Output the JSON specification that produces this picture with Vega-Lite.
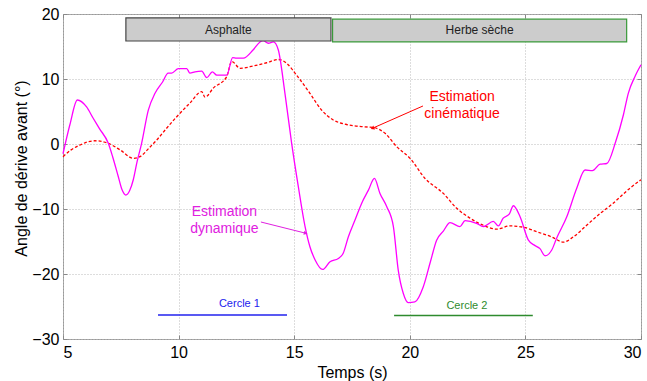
{
  "$schema": "https://vega.github.io/schema/vega-lite/v6.json",
  "width": 578,
  "height": 325,
  "autosize": {"type": "none"},
  "padding": {"left": 63, "top": 14, "right": 6, "bottom": 42},
  "background": "white",
  "config": {
    "view": {"stroke": "#999999", "strokeWidth": 1},
    "font": "Liberation Sans",
    "axis": {
      "domain": false,
      "ticks": true,
      "tickSize": -4,
      "tickColor": "#888888",
      "grid": true,
      "gridColor": "#bbbbbb",
      "gridDash": [1, 2],
      "gridWidth": 1,
      "labelFont": "Liberation Sans",
      "labelFontSize": 16,
      "labelColor": "#000000",
      "titleFont": "Liberation Sans",
      "titleFontSize": 16,
      "titleFontWeight": "normal",
      "titleColor": "#000000"
    }
  },
  "resolve": {"axis": {"x": "independent", "y": "independent"}},
  "datasets": {
    "dyn": [
      {"t": 5.0, "v": -1.5}, {"t": 5.3, "v": 3.0}, {"t": 5.62, "v": 6.77}, {"t": 6.02, "v": 5.7},
      {"t": 6.3, "v": 4.0}, {"t": 6.57, "v": 2.4}, {"t": 6.96, "v": 0.1}, {"t": 7.15, "v": -2.0},
      {"t": 7.39, "v": -5.0}, {"t": 7.55, "v": -7.0}, {"t": 7.72, "v": -7.85}, {"t": 7.88, "v": -7.2},
      {"t": 8.04, "v": -5.5}, {"t": 8.2, "v": -2.8}, {"t": 8.4, "v": 0.1}, {"t": 8.69, "v": 5.2},
      {"t": 8.98, "v": 7.8}, {"t": 9.3, "v": 9.5}, {"t": 9.55, "v": 10.9}, {"t": 9.7, "v": 10.9},
      {"t": 9.99, "v": 11.6}, {"t": 10.35, "v": 11.6}, {"t": 10.49, "v": 10.9}, {"t": 10.71, "v": 11.1},
      {"t": 11.0, "v": 11.2}, {"t": 11.22, "v": 10.2}, {"t": 11.46, "v": 11.1}, {"t": 11.65, "v": 10.6},
      {"t": 12.08, "v": 10.6}, {"t": 12.34, "v": 13.3}, {"t": 12.5, "v": 13.2}, {"t": 12.8, "v": 13.2},
      {"t": 13.23, "v": 14.5}, {"t": 13.52, "v": 15.7}, {"t": 13.66, "v": 15.9}, {"t": 13.88, "v": 15.5},
      {"t": 14.1, "v": 15.7}, {"t": 14.31, "v": 14.5}, {"t": 14.6, "v": 7.8}, {"t": 14.89, "v": 0.1},
      {"t": 15.18, "v": -6.6}, {"t": 15.47, "v": -12.7}, {"t": 15.68, "v": -15.8}, {"t": 15.9, "v": -17.8},
      {"t": 16.23, "v": -19.3}, {"t": 16.55, "v": -18.1}, {"t": 16.91, "v": -17.6}, {"t": 17.12, "v": -16.8},
      {"t": 17.34, "v": -14.3}, {"t": 17.63, "v": -11.7}, {"t": 17.92, "v": -9.1}, {"t": 18.21, "v": -7.1},
      {"t": 18.47, "v": -5.3}, {"t": 18.71, "v": -7.6}, {"t": 19.0, "v": -9.6}, {"t": 19.29, "v": -12.7},
      {"t": 19.5, "v": -19.4}, {"t": 19.72, "v": -23.0}, {"t": 19.93, "v": -24.4}, {"t": 20.22, "v": -24.3},
      {"t": 20.58, "v": -22.0}, {"t": 20.9, "v": -18.0}, {"t": 21.16, "v": -14.8}, {"t": 21.45, "v": -13.4},
      {"t": 21.74, "v": -12.1}, {"t": 22.17, "v": -12.7}, {"t": 22.39, "v": -11.8}, {"t": 22.89, "v": -12.2},
      {"t": 23.18, "v": -12.7}, {"t": 23.61, "v": -11.9}, {"t": 23.83, "v": -12.6}, {"t": 24.04, "v": -11.4},
      {"t": 24.3, "v": -10.8}, {"t": 24.48, "v": -9.5}, {"t": 24.77, "v": -11.2}, {"t": 25.13, "v": -14.8},
      {"t": 25.4, "v": -15.6}, {"t": 25.63, "v": -16.1}, {"t": 25.85, "v": -17.2}, {"t": 26.14, "v": -16.3},
      {"t": 26.35, "v": -14.5}, {"t": 26.79, "v": -11.2}, {"t": 27.22, "v": -6.8}, {"t": 27.58, "v": -4.0},
      {"t": 27.9, "v": -4.1}, {"t": 28.23, "v": -3.1}, {"t": 28.52, "v": -3.0}, {"t": 28.9, "v": 0.3},
      {"t": 29.24, "v": 4.5}, {"t": 29.45, "v": 7.8}, {"t": 29.74, "v": 10.4}, {"t": 30.0, "v": 12.2}
    ],
    "kin": [
      {"t": 5.0, "v": -1.95}, {"t": 5.35, "v": -0.9}, {"t": 5.74, "v": -0.15}, {"t": 6.05, "v": 0.3},
      {"t": 6.38, "v": 0.5}, {"t": 6.89, "v": 0.2}, {"t": 7.47, "v": -0.9}, {"t": 8.04, "v": -2.2},
      {"t": 8.33, "v": -1.95}, {"t": 8.7, "v": -0.7}, {"t": 9.05, "v": 0.6}, {"t": 9.5, "v": 2.5},
      {"t": 9.92, "v": 4.2}, {"t": 10.49, "v": 6.3}, {"t": 11.0, "v": 8.05}, {"t": 11.14, "v": 7.2},
      {"t": 11.5, "v": 8.6}, {"t": 12.08, "v": 10.35}, {"t": 12.3, "v": 12.7}, {"t": 12.66, "v": 11.65},
      {"t": 13.23, "v": 12.0}, {"t": 13.81, "v": 12.5}, {"t": 14.31, "v": 13.0}, {"t": 14.68, "v": 12.4},
      {"t": 15.1, "v": 10.6}, {"t": 15.68, "v": 7.8}, {"t": 16.19, "v": 5.2}, {"t": 16.69, "v": 3.7},
      {"t": 17.27, "v": 3.0}, {"t": 17.99, "v": 2.65}, {"t": 18.42, "v": 2.55}, {"t": 18.93, "v": 1.65},
      {"t": 19.43, "v": -0.4}, {"t": 20.01, "v": -2.2}, {"t": 20.66, "v": -5.3}, {"t": 21.45, "v": -7.6},
      {"t": 22.03, "v": -9.9}, {"t": 22.6, "v": -11.4}, {"t": 23.18, "v": -12.5}, {"t": 23.76, "v": -13.1},
      {"t": 24.33, "v": -12.6}, {"t": 24.91, "v": -12.8}, {"t": 25.49, "v": -13.5}, {"t": 26.14, "v": -14.3},
      {"t": 26.64, "v": -15.1}, {"t": 27.07, "v": -14.3}, {"t": 27.65, "v": -12.5}, {"t": 28.23, "v": -10.7},
      {"t": 28.8, "v": -9.1}, {"t": 29.52, "v": -6.8}, {"t": 30.0, "v": -5.5}
    ],
    "boxes": [
      {"label": "Asphalte", "t1": 7.72, "t2": 16.59, "v1": 19.4, "v2": 15.85, "tc": 12.15, "vc": 17.6, "kind": "a"},
      {"label": "Herbe sèche", "t1": 16.66, "t2": 29.38, "v1": 19.2, "v2": 15.7, "tc": 23.02, "vc": 17.5, "kind": "h"}
    ],
    "circles": [
      {"label": "Cercle 1", "t1": 9.11, "t2": 14.69, "v": -26.3, "tc": 12.63, "vc": -24.66, "kind": "c1"},
      {"label": "Cercle 2", "t1": 19.32, "t2": 25.32, "v": -26.4, "tc": 22.47, "vc": -24.92, "kind": "c2"}
    ],
    "notes": [
      {"label": "Estimation", "t": 22.26, "v": 7.28, "kind": "cin"},
      {"label": "cinématique", "t": 22.26, "v": 4.57, "kind": "cin"},
      {"label": "Estimation", "t": 11.98, "v": -10.4, "kind": "dyn"},
      {"label": "dynamique", "t": 11.98, "v": -13.1, "kind": "dyn"}
    ],
    "arrows": [
      {"t1": 20.57, "v1": 5.85, "t2": 18.41, "v2": 2.46, "kind": "cin"},
      {"t1": 13.56, "v1": -12.0, "t2": 15.47, "v2": -13.7, "kind": "dyn"}
    ]
  },
  "layer": [
    {
      "data": {"name": "kin"},
      "mark": {"type": "line", "color": "#ff0000", "strokeWidth": 1.3, "strokeDash": [3, 2], "interpolate": "monotone"},
      "encoding": {
        "x": {"field": "t", "type": "quantitative", "scale": {"domain": [5, 30], "nice": false},
          "axis": {"values": [5, 10, 15, 20, 25, 30], "title": "Temps (s)", "labelPadding": 9, "titlePadding": 4}},
        "y": {"field": "v", "type": "quantitative", "scale": {"domain": [-30, 20], "nice": false},
          "axis": {"values": [-30, -20, -10, 0, 10, 20], "title": "Angle de dérive avant (°)", "labelPadding": 8, "titlePadding": 2, "titleY": 154}}
      }
    },
    {
      "data": {"name": "dyn"},
      "mark": {"type": "line", "color": "#ff00ff", "strokeWidth": 1.3, "interpolate": "monotone"},
      "encoding": {
        "x": {"field": "t", "type": "quantitative",
          "axis": {"orient": "top", "values": [5, 10, 15, 20, 25, 30], "labels": false, "grid": false, "title": null}},
        "y": {"field": "v", "type": "quantitative",
          "axis": {"orient": "right", "values": [-30, -20, -10, 0, 10, 20], "labels": false, "grid": false, "title": null}}
      }
    },
    {
      "data": {"name": "boxes"},
      "mark": {"type": "rect", "fill": "#cccccc", "strokeWidth": 1.2},
      "encoding": {
        "x": {"field": "t1", "type": "quantitative", "axis": null},
        "x2": {"field": "t2"},
        "y": {"field": "v1", "type": "quantitative", "axis": null},
        "y2": {"field": "v2"},
        "stroke": {"field": "kind", "type": "nominal", "scale": {"domain": ["a", "h"], "range": ["#444444", "#3a9a3a"]}, "legend": null}
      }
    },
    {
      "data": {"name": "boxes"},
      "mark": {"type": "text", "fontSize": 12, "color": "#222222", "align": "center", "baseline": "middle"},
      "encoding": {
        "x": {"field": "tc", "type": "quantitative", "axis": null},
        "y": {"field": "vc", "type": "quantitative", "axis": null},
        "text": {"field": "label"}
      }
    },
    {
      "data": {"name": "circles"},
      "mark": {"type": "rule", "strokeWidth": 1.5},
      "encoding": {
        "x": {"field": "t1", "type": "quantitative", "axis": null},
        "x2": {"field": "t2"},
        "y": {"field": "v", "type": "quantitative", "axis": null},
        "color": {"field": "kind", "type": "nominal", "scale": {"domain": ["c1", "c2", "cin", "dyn"], "range": ["#2222ee", "#2e8b2e", "#ff0000", "#e020e0"]}, "legend": null}
      }
    },
    {
      "data": {"name": "circles"},
      "mark": {"type": "text", "fontSize": 11, "align": "center", "baseline": "middle"},
      "encoding": {
        "x": {"field": "tc", "type": "quantitative", "axis": null},
        "y": {"field": "vc", "type": "quantitative", "axis": null},
        "text": {"field": "label"},
        "color": {"field": "kind", "type": "nominal", "legend": null}
      }
    },
    {
      "data": {"name": "notes"},
      "mark": {"type": "text", "fontSize": 14, "align": "center", "baseline": "middle"},
      "encoding": {
        "x": {"field": "t", "type": "quantitative", "axis": null},
        "y": {"field": "v", "type": "quantitative", "axis": null},
        "text": {"field": "label"},
        "color": {"field": "kind", "type": "nominal", "legend": null}
      }
    },
    {
      "data": {"name": "arrows"},
      "mark": {"type": "rule", "strokeWidth": 1},
      "encoding": {
        "x": {"field": "t1", "type": "quantitative", "axis": null},
        "x2": {"field": "t2"},
        "y": {"field": "v1", "type": "quantitative", "axis": null},
        "y2": {"field": "v2"},
        "color": {"field": "kind", "type": "nominal", "legend": null}
      }
    },
    {
      "data": {"name": "arrows"},
      "transform": [{"filter": "datum.kind == 'cin'"}],
      "mark": {"type": "point", "shape": "triangle", "filled": true, "size": 18, "angle": 246, "opacity": 1},
      "encoding": {
        "x": {"field": "t2", "type": "quantitative", "axis": null},
        "y": {"field": "v2", "type": "quantitative", "axis": null},
        "color": {"field": "kind", "type": "nominal", "legend": null}
      }
    },
    {
      "data": {"name": "arrows"},
      "transform": [{"filter": "datum.kind == 'dyn'"}],
      "mark": {"type": "point", "shape": "triangle", "filled": true, "size": 18, "angle": 104, "opacity": 1},
      "encoding": {
        "x": {"field": "t2", "type": "quantitative", "axis": null},
        "y": {"field": "v2", "type": "quantitative", "axis": null},
        "color": {"field": "kind", "type": "nominal", "legend": null}
      }
    }
  ]
}
